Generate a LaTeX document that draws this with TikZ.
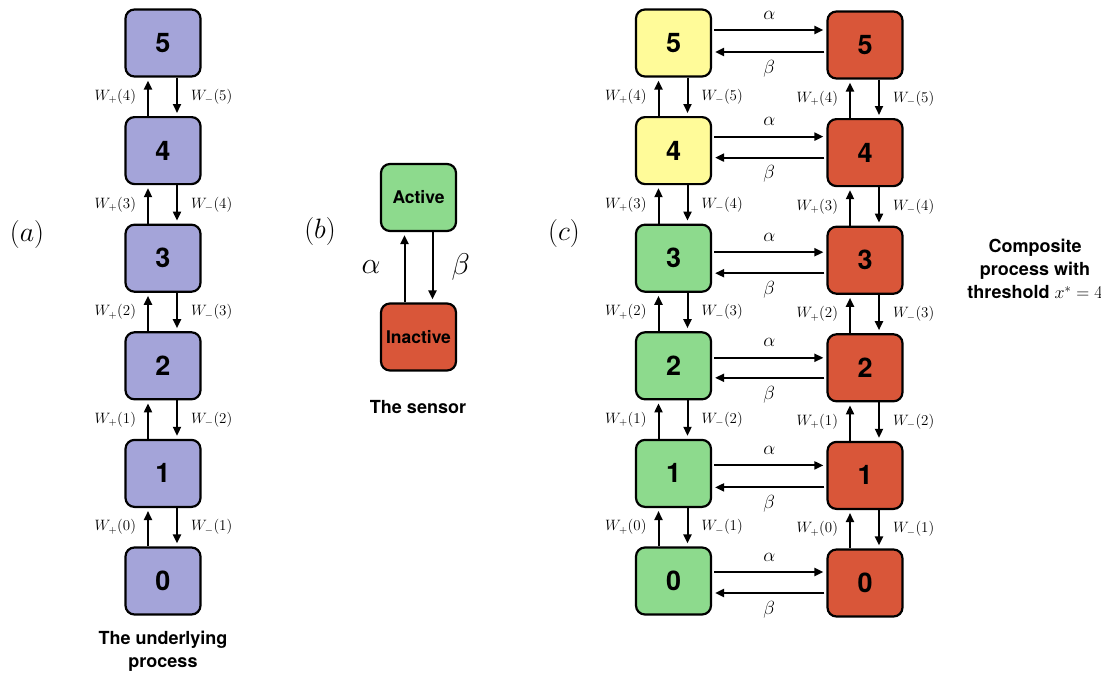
\RequirePackage{fix-cm}
\documentclass[tikz,border=0pt]{standalone}
\usepackage{fontspec}
\newfontfamily\heros{TeX Gyre Heros}
\usetikzlibrary{arrows.meta}

\definecolor{procblue}{RGB}{164,164,217}
\definecolor{actgreen}{RGB}{141,218,141}
\definecolor{thryellow}{RGB}{255,251,153}
\definecolor{inactred}{RGB}{217,86,57}

\tikzset{
  statebox/.style={draw=black, line width=2.2pt, rounded corners=9pt,
    minimum width=75pt, minimum height=67pt, inner sep=0pt,
    font=\heros\bfseries\fontsize{27}{27}\selectfont},
  sensorbox/.style={statebox, font=\heros\bfseries\fontsize{17.5}{17.5}\selectfont},
  arr/.style={-{Triangle[length=9pt,width=8pt]}, line width=2pt, shorten >=3pt},
  wlab/.style={inner sep=0pt, font=\fontsize{15}{18}\selectfont},
  ratelab/.style={inner sep=0pt, font=\fontsize{19}{22}\selectfont},
  biglab/.style={inner sep=0pt, font=\fontsize{30}{34}\selectfont},
  panel/.style={inner sep=0pt, font=\fontsize{28}{32}\selectfont},
  caption/.style={inner sep=0pt, align=center,
    font=\heros\bfseries\fontsize{18}{23}\selectfont},
}

\begin{document}
\begin{tikzpicture}[x=1pt, y=-1pt]
\useasboundingbox (0,0) rectangle (1101,675);

% ---------- (a) the underlying process ----------
\node[panel] (pa) at (27,234) {$(a)$};
\foreach \k in {0,...,5}
  \node[statebox, fill=procblue] (a\k) at (163,{581-107.6*\k}) {\k};
\foreach \k in {0,...,4}{
  \pgfmathtruncatemacro\n{\k+1}
  \draw[arr] ([xshift=-15pt]a\k.north) -- ([xshift=-15pt]a\k.north |- a\n.south)
    node[wlab, midway, left=11pt] {$W_{+}(\k)$};
  \draw[arr] ([xshift=14pt]a\n.south) -- ([xshift=14pt]a\n.south |- a\k.north)
    node[wlab, midway, right=13pt] {$W_{-}(\n)$};
}
\node[caption] (capa) at (163,651) {The underlying\\process};

% ---------- (b) the sensor ----------
\node[panel] (pb) at (320,231) {$(b)$};
\node[sensorbox, fill=actgreen] (act) at (418.5,197.5) {Active};
\node[sensorbox, fill=inactred] (inact) at (418.5,337) {Inactive};
\draw[arr] ([xshift=-14pt]inact.north) -- ([xshift=-14pt]inact.north |- act.south)
  node[biglab, midway, left=23pt] {$\alpha$};
\draw[arr] ([xshift=14pt]act.south) -- ([xshift=14pt]act.south |- inact.north)
  node[biglab, midway, right=18pt] {$\beta$};
\node[caption] (capb) at (418,407) {The sensor};

% ---------- (c) the composite process ----------
\node[panel] (pc) at (564,233) {$(c)$};
\foreach \k in {0,...,5}{
  \ifnum\k<4 \def\fc{actgreen}\else\def\fc{thryellow}\fi
  \node[statebox, fill=\fc] (L\k) at (673.5,{581-107.6*\k}) {\k};
  \node[statebox, fill=inactred] (R\k) at (865,{583-107.6*\k}) {\k};
}
\foreach \k in {0,...,4}{
  \pgfmathtruncatemacro\n{\k+1}
  \foreach \c in {L,R}{
    \draw[arr] ([xshift=-15pt]\c\k.north) -- ([xshift=-15pt]\c\k.north |- \c\n.south)
      node[wlab, midway, left=11pt] {$W_{+}(\k)$};
    \draw[arr] ([xshift=14pt]\c\n.south) -- ([xshift=14pt]\c\n.south |- \c\k.north)
      node[wlab, midway, right=13pt] {$W_{-}(\n)$};
  }
}
\foreach \k/\ay/\by in {0/9/-12, 1/8/-14, 2/8/-12, 3/6/-15, 4/14/-7, 5/13/-9}{
  \draw[arr, shorten <=2pt] ([yshift=\ay pt]L\k.east) -- ([yshift=\ay pt]L\k.east -| R\k.west)
    node[ratelab, midway, above=10pt] {$\alpha$};
  \draw[arr, shorten <=2pt] ([yshift=\by pt]L\k.east -| R\k.west) -- ([yshift=\by pt]L\k.east)
    node[ratelab, midway, below=7pt] {$\beta$};
}
\node[caption] (capc) at (1035,269) {Composite\\process with\\threshold $x^{*}=4$};
\end{tikzpicture}
\end{document}
